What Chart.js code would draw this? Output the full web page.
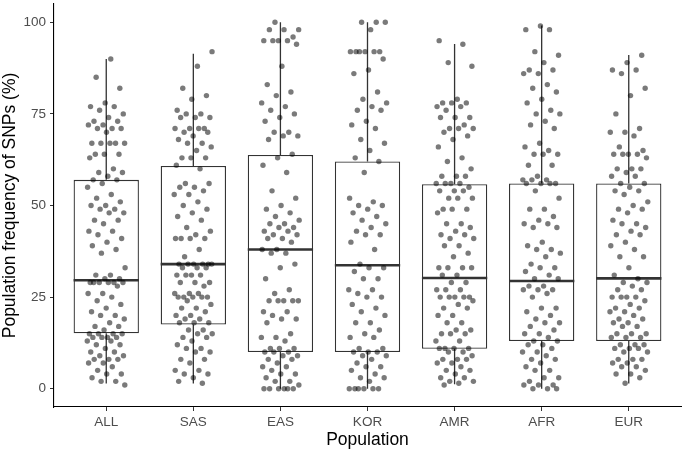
<!DOCTYPE html>
<html>
<head>
<meta charset="utf-8">
<script src="https://cdn.jsdelivr.net/npm/chart.js@4"></script>
<style>
    html, body { margin: 0; padding: 0; background: #fff; }
    canvas { display: block; }
</style>
</head>
<body>
<canvas id="chart" width="685" height="451"></canvas>
<script>
const categories = ['ALL', 'SAS', 'EAS', 'KOR', 'AMR', 'AFR', 'EUR'];

// box statistics
const q1 = [15.1, 17.5, 10.0, 10.0, 10.9, 13.0, 13.0];
const medians = [29.6, 34.0, 38.0, 33.7, 30.2, 29.4, 30.1];
const q3 = [57.0, 60.8, 63.8, 62.0, 55.8, 56.0, 56.0];
const whiskerLow = [1.4, 1.4, 0, 0, 1.2, 0, 1.4];
const whiskerHigh = [90.0, 91.4, 100, 100, 94.1, 99.1, 91.1];

// jittered SNP frequencies per population (%)
const allPoints = [90, 85, 82, 78, 77, 77, 76, 75, 74, 73, 73, 72, 72, 71, 71, 71, 70, 67, 67, 67, 67, 67, 64, 64, 64, 63, 60, 59, 59, 58, 57, 57, 56, 55, 53, 52, 51, 50, 50, 49, 49, 48, 48, 46, 46, 45, 43, 43, 42, 41, 40, 39, 38, 37, 33, 31, 31, 30, 30, 29, 29, 29, 29, 29, 29, 28, 26, 26, 25, 24, 23, 22, 21, 20, 20, 19, 18, 17, 17, 16, 15, 15, 15, 15, 14, 14, 14, 14, 13, 13, 12, 12, 11, 10, 10, 9, 9, 8, 8, 8, 7, 7, 6, 5, 4, 4, 3, 2, 2, 1];
const sasPoints = [92, 88, 82, 80, 79, 76, 75, 75, 74, 74, 74, 71, 71, 71, 71, 70, 70, 69, 68, 67, 67, 66, 65, 63, 63, 63, 61, 60, 56, 56, 55, 55, 54, 53, 53, 51, 50, 49, 48, 47, 46, 44, 43, 42, 41, 41, 41, 41, 38, 36, 34, 34, 34, 34, 34, 34, 33, 33, 33, 31, 31, 31, 31, 29, 29, 29, 28, 26, 26, 26, 25, 25, 25, 25, 25, 24, 23, 22, 22, 21, 20, 20, 19, 19, 18, 18, 18, 16, 16, 15, 15, 14, 14, 13, 12, 11, 11, 10, 10, 8, 8, 7, 5, 5, 4, 4, 3, 2, 1.5];
const easPoints = [100, 98, 98, 98, 96, 95, 95, 95, 95, 94, 88, 83, 81, 80, 78, 77, 76, 75, 74, 73, 70, 70, 69, 69, 68, 64, 63, 61, 59, 54, 52, 50, 49, 48, 47, 46, 45, 45, 44, 44, 43, 43, 42, 42, 41, 41, 40, 38, 38, 37, 37, 34, 33, 30, 27, 26, 24, 24, 24, 24, 24, 21, 21, 20, 19, 19, 18, 15, 14, 14, 13, 11, 11, 11, 10, 10, 10, 9, 9, 8, 8, 7, 6, 6, 5, 4, 4, 3, 2, 2, 1, 0, 0, 0, 0, 0, 0];
const korPoints = [100, 100, 100, 98, 92, 92, 92, 92, 92, 92, 90, 87, 86, 81, 79, 78, 77, 76, 76, 73, 72, 71, 68, 67, 65, 63, 62, 59, 52, 51, 50, 50, 49, 48, 47, 46, 45, 44, 43, 42, 42, 40, 38, 34, 33, 33, 32, 30, 30, 27, 27, 26, 25, 25, 23, 22, 21, 20, 18, 18, 16, 15, 14, 14, 11, 11, 10, 10, 10, 9, 9, 8, 7, 6, 6, 5, 4, 3, 3, 2, 0, 0, 0, 0, 0, 0];
const amrPoints = [95, 94, 89, 88, 79, 78, 78, 78, 77, 77, 76, 74, 74, 74, 72, 71, 71, 71, 70, 69, 68, 66, 63, 62, 60, 58, 58, 58, 56, 56, 56, 56, 55, 54, 54, 54, 52, 52, 52, 49, 49, 49, 48, 45, 45, 44, 43, 42, 42, 41, 41, 39, 39, 37, 36, 33, 33, 33, 33, 31, 31, 29, 29, 27, 27, 27, 25, 25, 25, 25, 25, 24, 23, 22, 22, 20, 20, 18, 18, 16, 16, 15, 15, 15, 13, 13, 11, 11, 11, 11, 10, 10, 9, 8, 8, 8, 7, 7, 6, 5, 5, 4, 3, 3, 2, 2, 1.5, 1];
const afrPoints = [99, 98, 98, 92, 91, 89, 87, 87, 86, 86, 83, 82, 81, 79, 78, 76, 75, 75, 73, 72, 71, 67, 66, 65, 64, 64, 64, 61, 61, 58, 57, 57, 57, 56, 56, 56, 56, 54, 52, 49, 49, 47, 46, 45, 45, 44, 44, 40, 39, 38, 38, 37, 36, 34, 33, 33, 32, 31, 30, 30, 28, 28, 27, 27, 27, 26, 25, 22, 22, 21, 20, 19, 18, 18, 17, 16, 15, 15, 14, 13, 13, 12, 12, 11, 10, 10, 9, 8, 8, 7, 6, 5, 5, 3, 3, 2, 1, 1, 1, 0, 0, 0];
const eurPoints = [91, 89, 87, 87, 86, 82, 80, 75, 71, 70, 70, 69, 66, 65, 64, 64, 64, 64, 63, 60, 60, 60, 59, 58, 58, 56, 56, 55, 54, 54, 53, 51, 50, 49, 49, 48, 46, 45, 45, 44, 43, 42, 42, 40, 39, 38, 36, 36, 33, 31, 30, 29, 29, 28, 27, 27, 25, 25, 25, 25, 24, 23, 22, 22, 21, 21, 20, 19, 19, 18, 18, 17, 17, 15, 15, 15, 14, 14, 14, 12, 12, 12, 11, 11, 11, 10, 10, 8, 8, 8, 7, 7, 6, 6, 5, 4, 4, 3, 1.5];

const groups = [allPoints, sasPoints, easPoints, korPoints, amrPoints, afrPoints, eurPoints];

const BOX_WIDTH = 0.75;
const JITTER = 0.22;
const INK = '#333333';

// horizontal spread of the points (deterministic, golden-ratio steps)
function jitter(k, g) {
    const f = ((k + 1) * 0.6180339887 + g * 0.37) % 1;
    return (f - 0.5) * 2 * JITTER;
}

const pointData = [];
groups.forEach((values, g) => {
    values.forEach((v, k) => pointData.push({ x: g + jitter(k, g), y: v }));
});

const boxData = categories.map((c, i) => ({ x: i, y: [q1[i], q3[i]] }));

const whiskerData = [];
const medianData = [];
categories.forEach((c, i) => {
    whiskerData.push({ x: i, y: whiskerLow[i] }, { x: i, y: q1[i] }, { x: i, y: null });
    whiskerData.push({ x: i, y: q3[i] }, { x: i, y: whiskerHigh[i] }, { x: i, y: null });
    medianData.push({ x: i - BOX_WIDTH / 2, y: medians[i] }, { x: i + BOX_WIDTH / 2, y: medians[i] }, { x: i, y: null });
});

Chart.defaults.font.family = '"Liberation Sans", Arial, sans-serif';

new Chart(document.getElementById('chart'), {
    type: 'scatter',
    data: {
        datasets: [
            {
                type: 'scatter',
                data: pointData,
                pointRadius: 2.7,
                pointBorderWidth: 0,
                pointBackgroundColor: 'rgba(0, 0, 0, 0.52)',
                order: 0,
            },
            {
                type: 'line',
                data: medianData,
                borderColor: INK,
                borderWidth: 2.6,
                pointRadius: 0,
                spanGaps: false,
                order: 1,
            },
            {
                type: 'bar',
                data: boxData,
                backgroundColor: '#ffffff',
                borderColor: INK,
                borderWidth: 1.3,
                borderSkipped: false,
                barPercentage: BOX_WIDTH,
                categoryPercentage: 1,
                order: 2,
            },
            {
                type: 'line',
                data: whiskerData,
                borderColor: INK,
                borderWidth: 1.3,
                pointRadius: 0,
                spanGaps: false,
                order: 3,
            },
        ],
    },
    options: {
        responsive: false,
        animation: false,
        events: [],
        layout: { padding: { top: 2, right: 1, left: 0, bottom: 0 } },
        plugins: { legend: { display: false }, tooltip: { enabled: false } },
        scales: {
            x: {
                type: 'linear',
                min: -0.6,
                max: 6.6,
                offset: false,
                afterBuildTicks: (scale) => {
                    scale.ticks = categories.map((c, i) => ({ value: i }));
                },
                afterFit: (scale) => {
                    scale.height = 44;
                    scale.paddingLeft = 0;
                    scale.paddingRight = 0;
                },
                ticks: {
                    callback: (value) => categories[value],
                    color: '#4d4d4d',
                    font: { size: 13.5 },
                    padding: 3,
                    maxRotation: 0,
                    autoSkip: false,
                },
                grid: { offset: false, drawOnChartArea: false, drawTicks: true, tickLength: 4, color: INK },
                border: { display: true, color: '#000000', width: 1.1 },
                title: {
                    display: true,
                    text: 'Population',
                    color: '#000000',
                    font: { size: 17.5 },
                    padding: { top: 0, bottom: 0.5 },
                },
            },
            y: {
                type: 'linear',
                min: -5,
                max: 105,
                afterBuildTicks: (scale) => {
                    scale.ticks = [0, 25, 50, 75, 100].map((v) => ({ value: v }));
                },
                afterFit: (scale) => {
                    scale.width = 54;
                    scale.paddingTop = 0;
                    scale.paddingBottom = 0;
                },
                ticks: {
                    color: '#4d4d4d',
                    font: { size: 13.5 },
                    padding: 4,
                },
                grid: { drawOnChartArea: false, drawTicks: true, tickLength: 4, color: INK },
                border: { display: true, color: '#000000', width: 1.1 },
                title: {
                    display: true,
                    text: 'Population frequency of SNPs (%)',
                    color: '#000000',
                    font: { size: 17.5 },
                    padding: { top: 0, bottom: 0 },
                },
            },
        },
    },
});
</script>
</body>
</html>
